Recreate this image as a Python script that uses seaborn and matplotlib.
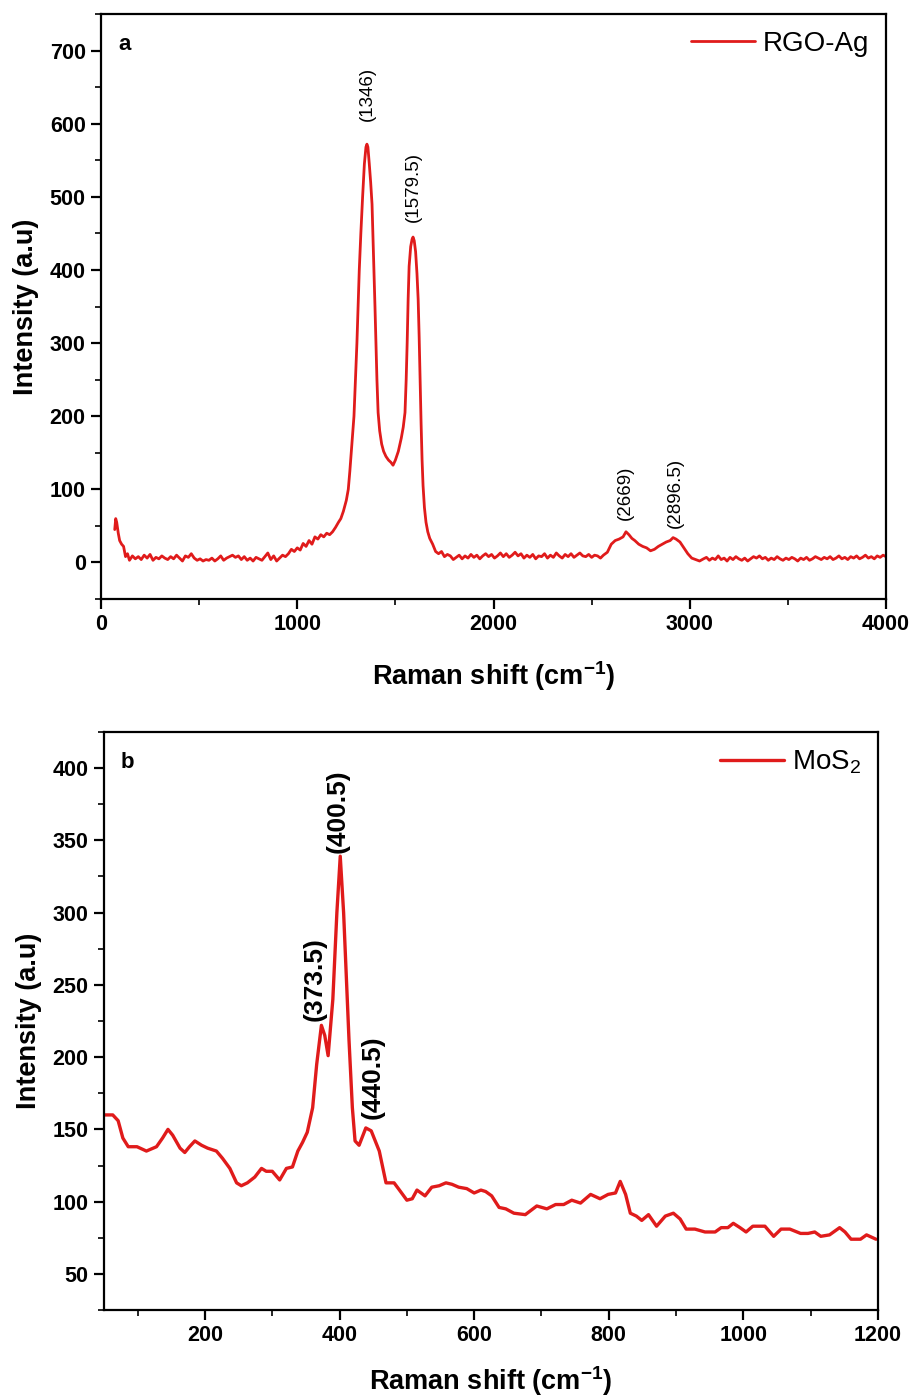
# Raman spectra of RGO-Ag (a) and MoS2 (b)
import pandas as pd
import seaborn as sns
import matplotlib.pyplot as plt
from matplotlib.ticker import MultipleLocator

# panel a: RGO-Ag
rgo_shift = [70, 75, 80, 88, 95, 105, 115, 125, 135, 145, 160, 175, 190, 205, 220, 235, 250, 265, 280, 295,
             310, 325, 340, 355, 370, 385, 400, 415, 430, 445, 460, 475, 490, 505, 520, 535, 550, 565, 580, 595,
             610, 625, 640, 655, 670, 685, 700, 715, 730, 745, 760, 775, 790, 805, 820, 835, 850, 865, 880, 895,
             910, 925, 940, 955, 970, 985, 1000, 1015, 1030, 1045, 1060, 1075, 1090, 1105, 1120, 1135, 1150, 1165,
             1180, 1195, 1210, 1222, 1235, 1250, 1260, 1268, 1275, 1282, 1289, 1296, 1304, 1310, 1316, 1324,
             1333, 1342, 1350, 1355, 1360, 1367, 1374, 1381, 1386, 1391, 1396, 1401, 1406, 1412, 1420, 1430,
             1440, 1452, 1465, 1477, 1488, 1500, 1515, 1530, 1540, 1549, 1555, 1560, 1565, 1570, 1578, 1585,
             1590, 1596, 1603, 1610, 1616, 1621, 1626, 1631, 1636, 1641, 1648, 1656, 1665, 1675, 1690, 1705,
             1720, 1735, 1750, 1765,
             1780, 1795, 1810, 1825, 1840, 1855, 1870, 1885, 1900, 1915, 1930, 1945, 1960, 1975, 1990, 2005, 2020,
             2035, 2050, 2065, 2080, 2095, 2110, 2125, 2140, 2155, 2170, 2185, 2200, 2215, 2230, 2245, 2260, 2275,
             2290, 2305, 2320, 2335, 2350, 2365, 2380, 2395, 2410, 2425, 2440, 2455, 2470, 2485, 2500, 2515, 2530,
             2545, 2560, 2580, 2600, 2620, 2640, 2660, 2675, 2690, 2705, 2720, 2740, 2760, 2780, 2800, 2820, 2840,
             2860, 2880, 2900, 2915, 2930, 2950, 2970, 2990, 3010, 3030, 3050, 3070, 3085, 3100, 3115, 3130,
             3145, 3160, 3175, 3190, 3205, 3220, 3235, 3250, 3265, 3280, 3295,
             3310, 3325, 3340, 3355, 3370, 3385, 3400, 3415, 3430, 3445, 3460, 3475, 3490, 3505, 3520, 3535, 3550,
             3565, 3580, 3595, 3610, 3625, 3640, 3655, 3670, 3685, 3700, 3715, 3730, 3745, 3760, 3775, 3790, 3805,
             3820, 3835, 3850, 3865, 3880, 3895, 3910, 3925, 3940, 3955, 3970, 3985, 4000]
rgo_int = [45, 60, 55, 40, 30, 25, 22, 8, 12, 3, 9, 5, 8, 4, 10, 6, 11, 3, 7, 5,
           9, 6, 4, 8, 5, 10, 6, 2, 9, 7, 12, 6, 3, 5, 2, 4, 3, 6, 2, 5,
           9, 3, 6, 8, 10, 7, 9, 4, 8, 3, 6, 2, 7, 5, 3, 8, 13, 4, 9, 2,
           6, 10, 8, 12, 18, 15, 20, 17, 26, 22, 30, 25, 35, 32, 38, 35, 40, 38,
           42, 48, 55, 60, 70, 85, 100, 125, 150, 175, 200, 245, 300, 350, 400, 450,
           500, 545, 568, 572, 568, 545, 520, 490, 445, 400, 350, 300, 250, 205, 180, 162,
           152, 145, 140, 137, 133, 140, 152, 170, 185, 205, 250, 300, 360, 405, 432, 442,
           445, 440, 425, 395, 360, 310, 250, 190, 140, 105, 75, 55, 42, 33, 25, 15,
           12, 15, 8, 11,
           9, 4, 7, 10, 5, 9, 6, 11, 7, 10, 5, 9, 12, 8, 11, 6, 9,
           13, 8, 12, 7, 10, 14, 9, 12, 6, 10, 7, 11, 5, 9, 8, 12, 6,
           10, 7, 13, 9, 6, 11, 8, 12, 7, 10, 13, 9, 8, 11, 7, 10, 9,
           6, 10, 14, 25, 30, 32, 35, 42, 38, 33, 30, 25, 22, 20, 16, 18, 22,
           25, 28, 30, 34, 32, 28, 20, 12, 6, 4, 2, 5, 7, 3, 6, 4,
           9, 4, 6, 2, 7, 4, 8, 5, 3, 6, 2,
           5, 8, 6, 9, 5, 7, 3, 6, 4, 8, 5, 3, 6, 4, 7, 5, 2,
           6, 4, 7, 3, 5, 8, 6, 4, 7, 5, 8, 4, 6, 9, 5, 7, 4,
           8, 6, 9, 5, 7, 10, 6, 8, 5, 9, 7, 10, 8]

# panel b: MoS2
mos2_shift = [50, 63, 71, 78, 86, 99, 113, 128, 137, 145, 152, 163, 170, 177, 185, 195, 204, 217, 226, 237,
              247, 254, 263, 274, 284, 291, 300, 311, 321, 330, 338, 345, 352, 360, 366, 373, 378, 383, 390,
              396, 401, 406, 414, 419, 423, 429, 439, 447, 459, 469, 481, 489, 500, 508, 515, 527, 537, 548,
              558, 567, 577, 589, 600, 610, 617, 626, 637, 647, 659, 676, 693, 708, 721, 733, 745, 758, 773,
              787, 799, 810, 817, 825, 832, 841, 849, 859, 871, 884, 896, 906, 915, 928, 943, 958, 967, 977,
              985, 995, 1004, 1014, 1032, 1045, 1056, 1069, 1085, 1096, 1106, 1115, 1128, 1143, 1151, 1160,
              1174, 1183, 1197]
mos2_int = [160, 160, 156, 144, 138, 138, 135, 138, 144, 150, 146, 137, 134, 138, 142, 139, 137, 135, 130, 123,
            113, 111, 113, 117, 123, 121, 121, 115, 123, 124, 135, 141, 148, 165, 195, 222, 215, 201, 240,
            300, 339, 300, 212, 165, 142, 139, 151, 149, 135, 113, 113, 108, 101, 102, 108, 104, 110, 111,
            113, 112, 110, 109, 106, 108, 107, 104, 96, 95, 92, 91, 97, 95, 98, 98, 101, 99, 105,
            102, 105, 106, 114, 105, 92, 90, 87, 91, 83, 90, 92, 88, 81, 81, 79, 79, 82, 82,
            85, 82, 79, 83, 83, 76, 81, 81, 78, 78, 79, 76, 77, 82, 79, 74,
            74, 77, 74]

peaks_a = ["(1346)", "(1579.5)", "(2669)", "(2896.5)"]
peaks_a_x = [1355, 1590, 2672, 2925]
peaks_a_y = [603, 465, 58, 47]
peaks_b = ["(373.5)", "(400.5)", "(440.5)"]
peaks_b_x = [363, 397, 449]
peaks_b_y = [225, 341, 157]

red = "#e01b1b"

sns.set_theme(style="ticks")
plt.rcParams['font.family'] = ['Liberation Sans', 'DejaVu Sans']
plt.rcParams['mathtext.default'] = 'regular'
for key in ['text.color', 'axes.labelcolor', 'xtick.color', 'ytick.color', 'axes.edgecolor']:
    plt.rcParams[key] = 'black'

df_a = pd.DataFrame({"shift": rgo_shift, "intensity": rgo_int})
df_b = pd.DataFrame({"shift": mos2_shift, "intensity": mos2_int})

fig = plt.figure(figsize=(9.14, 13.99), dpi=100)
ax1 = fig.add_axes([0.1105, 0.5718, 0.8589, 0.4182])
ax2 = fig.add_axes([0.1138, 0.0636, 0.8468, 0.4132])

sns.lineplot(data=df_a, x="shift", y="intensity", ax=ax1, color=red, linewidth=2.0,
             estimator=None, label="RGO-Ag")
sns.lineplot(data=df_b, x="shift", y="intensity", ax=ax2, color=red, linewidth=2.4,
             estimator=None, label="MoS$_2$")

ax1.set_xlim(0, 4000)
ax1.set_ylim(-50, 750)
ax1.xaxis.set_major_locator(MultipleLocator(1000))
ax1.xaxis.set_minor_locator(MultipleLocator(500))
ax1.yaxis.set_major_locator(MultipleLocator(100))
ax1.yaxis.set_minor_locator(MultipleLocator(50))

ax2.set_xlim(50, 1200)
ax2.set_ylim(25, 425)
ax2.xaxis.set_major_locator(MultipleLocator(200))
ax2.xaxis.set_minor_locator(MultipleLocator(100))
ax2.yaxis.set_major_locator(MultipleLocator(50))
ax2.yaxis.set_minor_locator(MultipleLocator(25))

for ax, tag, pad in [(ax1, "a", 17), (ax2, "b", 13)]:
    for s in ax.spines.values():
        s.set_linewidth(1.6)
        s.set_color("black")
    ax.tick_params(which="major", direction="out", length=7, width=1.6, labelsize=15.5, pad=4)
    ax.tick_params(which="minor", direction="out", length=4, width=1.2)
    for lab in ax.get_xticklabels() + ax.get_yticklabels():
        lab.set_fontweight("bold")
    ax.set_ylabel("Intensity (a.u)", fontsize=19.5, fontweight="bold", labelpad=8)
    ax.set_xlabel("Raman shift (cm$^{-1}$)", fontsize=19.5, fontweight="bold", labelpad=pad)
    ax.text(0.022, 0.965, tag, transform=ax.transAxes, fontsize=16, fontweight="bold", va="top")
    ax.legend(loc="upper right", frameon=False, fontsize=20, handlelength=2.3,
              handletextpad=0.3, borderaxespad=0.2)

for t, x, y in zip(peaks_a, peaks_a_x, peaks_a_y):
    ax1.text(x, y, t, rotation=90, ha="center", va="bottom", fontsize=13.5)
for t, x, y in zip(peaks_b, peaks_b_x, peaks_b_y):
    ax2.text(x, y, t, rotation=90, ha="center", va="bottom", fontsize=19, fontweight="bold")

fig.savefig("out.png", dpi=100)
